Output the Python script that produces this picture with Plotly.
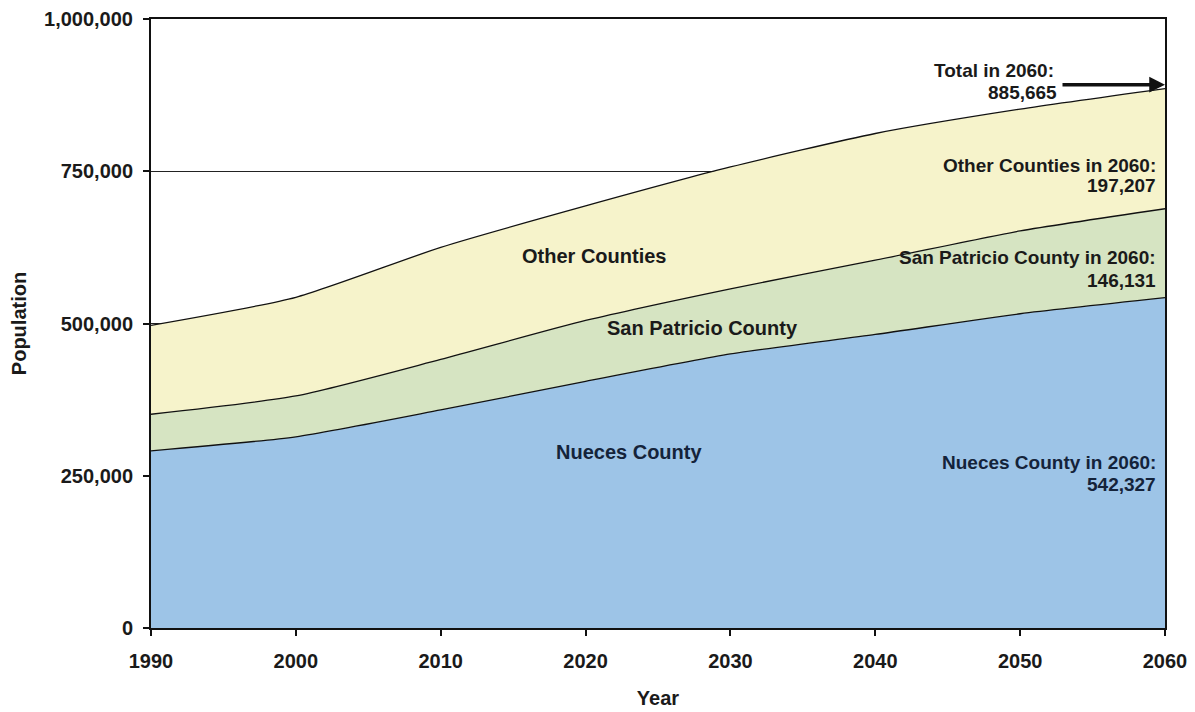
import plotly.graph_objects as go

# Population projections by area (decennial)
years = [1990, 2000, 2010, 2020, 2030, 2040, 2050, 2060]
nueces = [291000, 314000, 358000, 405000, 450000, 482000, 516000, 542327]
san_patricio = [60000, 67000, 83000, 100000, 107000, 122000, 136000, 146131]
other_counties = [146000, 162000, 184000, 188000, 200000, 208000, 200000, 197207]

y_ticks = [0, 250000, 500000, 750000, 1000000]
x_ticks = years

FONT = "Liberation Sans, Arial, sans-serif"
INK = "#1a1a1a"
LINE = dict(color="#111111", width=1.3, shape="spline", smoothing=0.6)

fig = go.Figure()
for name, vals, color in [
    ("Nueces County", nueces, "#9DC4E7"),
    ("San Patricio County", san_patricio, "#D6E4C2"),
    ("Other Counties", other_counties, "#F6F3CB"),
]:
    fig.add_trace(go.Scatter(
        x=years, y=vals, name=name, mode="lines",
        stackgroup="pop", fillcolor=color, line=LINE,
        hoverinfo="x+y+name",
    ))

total_2060 = nueces[-1] + san_patricio[-1] + other_counties[-1]


def lab(x, y, text, size=19, color=INK, xanchor="center"):
    fig.add_annotation(x=x, y=y, xref="x", yref="y", text=f"<b>{text}</b>",
                       showarrow=False, xanchor=xanchor, yanchor="middle",
                       font=dict(family=FONT, size=size, color=color))


# in-area labels
lab(2020.6, 611000, "Other Counties", size=20)
lab(2028.1, 493000, "San Patricio County", size=20)
lab(2023.0, 289000, "Nueces County", size=20, color="#14233a")

# 2060 callouts on the right
xr = 2059.5
lab(xr, 760000, "Other Counties in 2060:", xanchor="right")
lab(xr, 726000, f"{other_counties[-1]:,}", xanchor="right")
lab(xr, 608000, "San Patricio County in 2060:", xanchor="right")
lab(xr, 571000, f"{san_patricio[-1]:,}", xanchor="right")
lab(xr, 271000, "Nueces County in 2060:", xanchor="right", color="#14233a")
lab(xr, 235000, f"{nueces[-1]:,}", xanchor="right", color="#14233a")

lab(2052.5, 916000, "Total in 2060:", xanchor="right")
lab(2052.7, 880000, f"{total_2060:,}", xanchor="right")

# arrow pointing to the 2060 total
fig.add_annotation(x=2060, y=total_2060, xref="x", yref="y", ax=-104, ay=0,
                   yshift=4, showarrow=True, arrowhead=2, arrowsize=0.9,
                   arrowwidth=3.5, arrowcolor="#111111", text="")

fig.update_layout(
    width=1195, height=712,
    margin=dict(l=151, r=30, t=19, b=84),
    paper_bgcolor="white", plot_bgcolor="white",
    showlegend=False,
    font=dict(family=FONT, size=20, color=INK),
)
fig.update_xaxes(
    range=[1990, 2060], tickvals=x_ticks,
    ticktext=[f"<b>{v}</b>" for v in x_ticks],
    showgrid=False, zeroline=False, automargin=False,
    showline=True, linecolor="#111111", linewidth=2, mirror=True,
    ticks="outside", ticklen=6, tickcolor="#111111", tickwidth=1.5,
    ticklabelstandoff=8,
    tickfont=dict(family=FONT, size=20, color=INK),
    title=dict(text="<b>Year</b>", standoff=20,
               font=dict(family=FONT, size=20, color=INK)),
)
fig.update_yaxes(
    range=[0, 1000000], tickvals=y_ticks,
    ticktext=[f"<b>{v:,}</b>" for v in y_ticks],
    showgrid=True, gridcolor="#222222", gridwidth=1.2, zeroline=False,
    automargin=False,
    showline=True, linecolor="#111111", linewidth=2, mirror=True,
    ticks="outside", ticklen=6, tickcolor="#111111", tickwidth=1.5,
    ticklabelstandoff=6,
    tickfont=dict(family=FONT, size=20, color=INK),
    title=dict(text="<b>Population</b>", standoff=12,
               font=dict(family=FONT, size=20, color=INK)),
)

fig.write_html("out.html")
